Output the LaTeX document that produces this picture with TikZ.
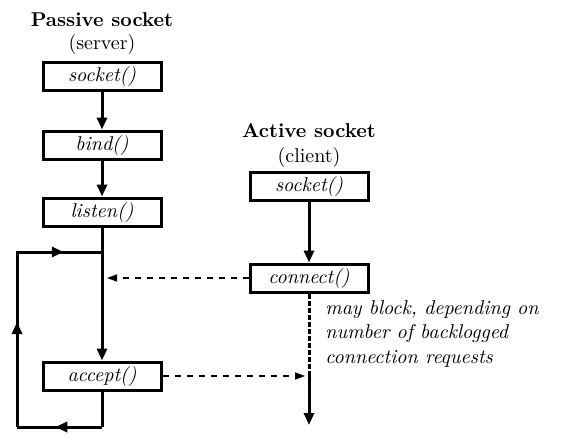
\documentclass[tikz,border=0pt]{standalone}
\usepackage{tikz}
\usetikzlibrary{arrows.meta, decorations.markings}

\begin{document}
\begin{tikzpicture}[x=0.5pt, y=-0.5pt,
  call/.style={draw, line width=1.5pt, minimum width=59pt, minimum height=14pt, inner sep=0pt, font=\itshape},
  flow/.style={line width=1.5pt, -{Triangle[length=6pt,width=5pt]}},
  msg/.style={dashed, line width=0.7pt, -{Triangle[length=5pt,width=3.5pt]}},
  midarrow/.style={line width=1.5pt, postaction={decorate},
    decoration={markings, mark=at position #1 with {\arrow{Triangle[length=6pt,width=5pt]}}}}]
  \useasboundingbox (0,0) rectangle (572,444);
  % server side
  \node[font=\bfseries] (srvtitle) at (102,20) {Passive socket};
  \node (srvsub) at (102,45) {(server)};
  \node[call] (ssock) at (102,77) {socket()};
  \node[call] (bind) at (102,145) {bind()};
  \node[call] (listen) at (102,212) {listen()};
  \node[call] (accept) at (102,376) {accept()};
  % client side
  \node[font=\bfseries] (clititle) at (309,131) {Active socket};
  \node (clisub) at (309,157) {(client)};
  \node[call] (csock) at (309,186) {socket()};
  \node[call] (connect) at (309,278) {connect()};
  \node[align=left, anchor=north west, inner sep=0pt,
    font=\itshape\fontsize{10}{12.25}\selectfont] (note) at (325,300)
    {may block, depending on\\number of backlogged\\connection requests};
  % loop corners
  \coordinate (top) at (102,252);
  \coordinate (tl) at (17,252);
  \coordinate (bl) at (17,427);
  \coordinate (br) at (102,427);
  \coordinate (wait) at (309,376);
  \coordinate (cend) at (309,425);
  \coordinate (hit) at (107,278);

  \draw[flow] (ssock) -- (bind);
  \draw[flow] (bind) -- (listen);
  \draw[flow] (listen) -- (accept);
  \draw[line width=1.5pt] (accept) -- (br);
  \draw[midarrow=0.55] (br) -- (bl);
  \draw[line width=1.5pt] (bl) -- (tl) -- (top);
  \draw[midarrow=0.6] (bl) -- (tl);
  \draw[midarrow=0.55] (tl) -- (top);

  \draw[flow] (csock) -- (connect);
  \draw[line width=1.5pt, dash pattern=on 2.5pt off 1pt] (connect) -- (wait);
  \draw[flow] (wait) -- (cend);

  \draw[msg] (connect) -- (hit);
  \draw[msg, shorten >=2pt] (accept) -- (wait);
\end{tikzpicture}
\end{document}
